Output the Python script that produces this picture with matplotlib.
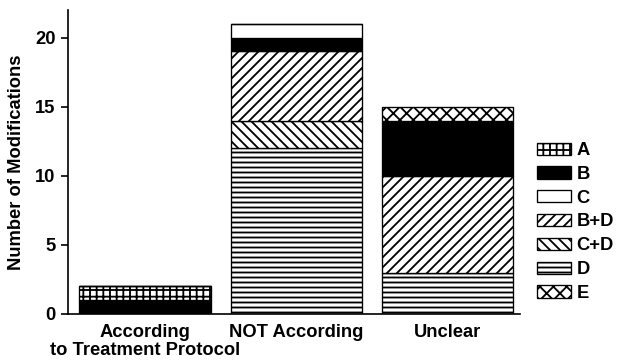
import numpy as np
import matplotlib
matplotlib.use("Agg")
import matplotlib.pyplot as plt

# categories on the x axis
categories = ["According\nto Treatment Protocol", "NOT According", "Unclear"]

# stacked segments, bottom to top
series = ["D", "C+D", "B+D", "B", "A", "C", "E"]
values = {
    "D":   [0, 12, 3],
    "C+D": [0, 2, 0],
    "B+D": [0, 5, 7],
    "B":   [1, 1, 4],
    "A":   [1, 0, 0],
    "C":   [0, 1, 0],
    "E":   [0, 0, 1],
}
legend_order = ["A", "B", "C", "B+D", "C+D", "D", "E"]

hatches = {"A": "+++", "B": "", "C": "", "B+D": "////", "C+D": "\\\\\\\\",
           "D": "----", "E": "xxx"}
faces = {"A": "white", "B": "black", "C": "white", "B+D": "white",
         "C+D": "white", "D": "white", "E": "white"}

plt.rcParams["font.family"] = ["Liberation Sans", "DejaVu Sans"]
plt.rcParams["font.weight"] = "bold"
plt.rcParams["hatch.linewidth"] = 1.1

DPI = 120
fig = plt.figure(figsize=(619 / DPI, 363 / DPI), dpi=DPI)
ax = fig.add_axes([68 / 619, 49 / 363, 452 / 619, 304 / 363])

x = np.arange(len(categories))
bottom = np.zeros(len(categories))
handles = {}
for s in series:
    v = np.array(values[s], dtype=float)
    h = ax.bar(x, v, 0.87, bottom=bottom, color=faces[s], edgecolor="black",
               linewidth=0.8, hatch=hatches[s], label=s)
    handles[s] = h
    bottom += v

ax.set_xlim(-0.51, 2.48)
ax.set_ylim(0, 22)
ax.set_yticks([0, 5, 10, 15, 20])
ax.set_xticks(x)
ax.set_xticklabels(categories, fontsize=11, fontweight="bold", linespacing=1.1)
ax.tick_params(axis="y", labelsize=11, length=4, width=1)
ax.tick_params(axis="x", length=0, pad=6)
for lab in ax.get_yticklabels():
    lab.set_fontweight("bold")
ax.set_ylabel("Number of Modifications", fontsize=11, fontweight="bold", labelpad=6)
ax.spines["top"].set_visible(False)
ax.spines["right"].set_visible(False)
ax.spines["left"].set_linewidth(1)
ax.spines["bottom"].set_linewidth(1)

leg = fig.legend([handles[s] for s in legend_order], legend_order,
                 loc="center left", bbox_to_anchor=(537 / 619, 1 - 222 / 363),
                 frameon=False, fontsize=11, handlelength=1.85, handleheight=0.65,
                 labelspacing=0.37, handletextpad=0.3, borderaxespad=0,
                 borderpad=0)
for t in leg.get_texts():
    t.set_fontweight("bold")

fig.savefig("out.png", dpi=DPI)
